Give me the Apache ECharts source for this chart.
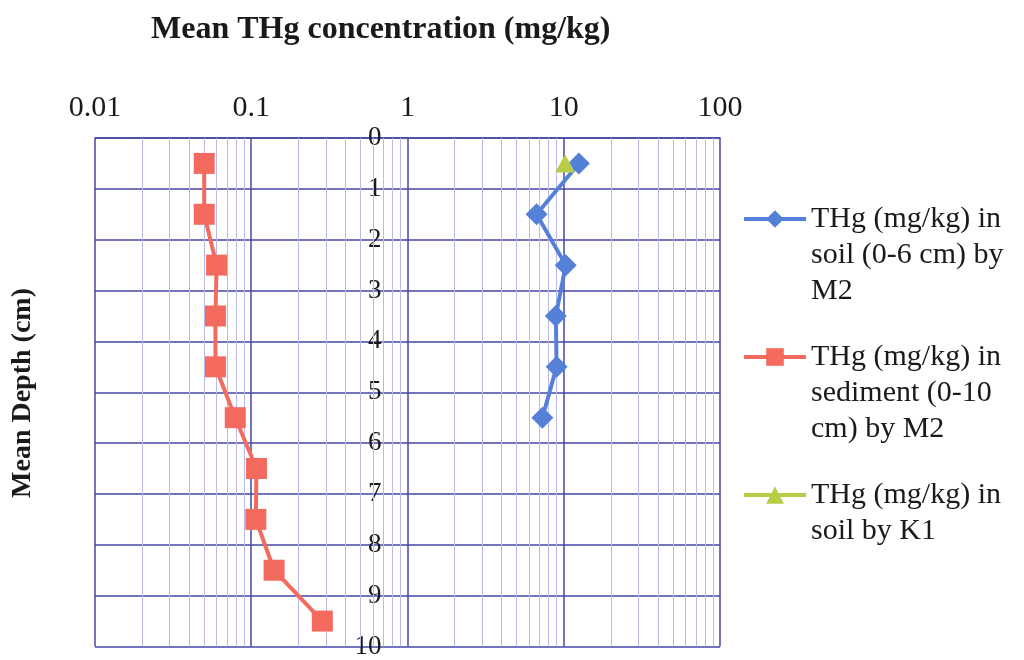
<!DOCTYPE html>
<html>
<head>
<meta charset="utf-8">
<script src="https://cdn.jsdelivr.net/npm/echarts@6/dist/echarts.min.js"></script>
<style>html,body{margin:0;padding:0;background:#fff;}#c{width:1024px;height:660px;}</style>
</head>
<body>
<div id="c"></div>
<script>
const titleText = 'Mean THg concentration (mg/kg)';
const yName = 'Mean Depth (cm)';
const seriesNames = ['THg (mg/kg) in\nsoil (0-6 cm) by\nM2', 'THg (mg/kg) in\nsediment (0-10\ncm) by M2', 'THg (mg/kg) in\nsoil by K1'];
const depthSoilM2 = [0.5, 1.5, 2.5, 3.5, 4.5, 5.5];
const soilM2 = [12.5, 6.7, 10.3, 8.9, 9.0, 7.3];
const depthSedM2 = [0.5, 1.5, 2.5, 3.5, 4.5, 5.5, 6.5, 7.5, 8.5, 9.5];
const sedimentM2 = [0.050, 0.050, 0.060, 0.059, 0.059, 0.079, 0.108, 0.107, 0.14, 0.285];
const depthSoilK1 = [0.5];
const soilK1 = [10.2];
const minorGrid = [0.02,0.03,0.04,0.05,0.06,0.07,0.08,0.09,0.2,0.3,0.4,0.5,0.6,0.7,0.8,0.9,2,3,4,5,6,7,8,9,20,30,40,50,60,70,80,90];

const FONT = '"Liberation Serif", "Times New Roman", serif';
const MAJOR = '#4646a6';
const MINOR = '#b9b9ee';

const pairs = (xs, ys) => xs.map((x, i) => [x, ys[i]]);

// Align the legend icon with the first text line: pad the text with blank lines
// so that its first real line sits at the vertical middle of the block.
function legendText(name) {
  const n = name.split('\n').length;
  const lead = Math.max(2, n - 1);
  const trail = lead - (n - 1);
  return '\n'.repeat(lead) + name + '\n'.repeat(trail);
}

const chart = echarts.init(document.getElementById('c'));
const gridLeft = 95, gridWidth = 625;
chart.setOption({
  backgroundColor: '#fff',
  animation: false,
  title: {
    text: titleText, left: 151, top: 14, padding: 0,
    textStyle: { fontFamily: FONT, fontSize: 32, fontWeight: 'bold', color: '#1a1a1a' }
  },
  graphic: [{
    type: 'text', x: 23, y: 393, rotation: Math.PI / 2,
    style: { text: yName, font: 'bold 28px ' + FONT, fill: '#1a1a1a', align: 'center', verticalAlign: 'middle' }
  }],
  legend: {
    orient: 'vertical', left: 742, top: 129, padding: 0, itemGap: -42,
    itemWidth: 62, itemHeight: 22,
    formatter: legendText,
    lineStyle: { width: 4 },
    textStyle: { fontFamily: FONT, fontSize: 30, lineHeight: 36, color: '#1a1a1a' },
    data: seriesNames
  },
  grid: { left: gridLeft, width: gridWidth, top: 138, height: 510 },
  xAxis: {
    type: 'log', logBase: 10, min: 0.01, max: 100, position: 'top',
    axisLine: { show: true, lineStyle: { color: MAJOR, width: 1.5 } },
    axisTick: { show: false },
    axisLabel: { fontFamily: FONT, fontSize: 30, color: '#1a1a1a', margin: 15,
      formatter: v => String(+v.toPrecision(3)) },
    splitLine: { show: true, lineStyle: { color: MAJOR, width: 1.5 } },
    minorTick: { show: false }, minorSplitLine: { show: false }
  },
  yAxis: {
    type: 'value', min: 0, max: 10, interval: 1, inverse: true,
    position: 'left', offset: -(gridWidth / 2),
    axisLine: { show: false }, axisTick: { show: false },
    axisLabel: { fontFamily: FONT, fontSize: 27, color: '#1a1a1a', margin: 26 },
    splitLine: { show: true, lineStyle: { color: MAJOR, width: 1.5 } }
  },
  series: [
    {
      name: seriesNames[0], type: 'line', data: pairs(soilM2, depthSoilM2),
      symbol: 'diamond', symbolSize: 22, z: 4,
      lineStyle: { color: '#5580d8', width: 4 },
      itemStyle: { color: '#5580d8' },
      markLine: {
        silent: true, symbol: 'none', label: { show: false }, z: 1,
        lineStyle: { color: MINOR, width: 1, type: 'solid' },
        data: minorGrid.map(v => ({ xAxis: v }))
      }
    },
    {
      name: seriesNames[1], type: 'line', data: pairs(sedimentM2, depthSedM2),
      symbol: 'rect', symbolSize: 21, z: 4,
      lineStyle: { color: '#f46a5e', width: 4 },
      itemStyle: { color: '#f46a5e' }
    },
    {
      name: seriesNames[2], type: 'line', data: pairs(soilK1, depthSoilK1),
      symbol: 'triangle', symbolSize: [20, 18], z: 5,
      lineStyle: { color: '#b8cc48', width: 4 },
      itemStyle: { color: '#b8cc48' }
    }
  ]
});
</script>
</body>
</html>
